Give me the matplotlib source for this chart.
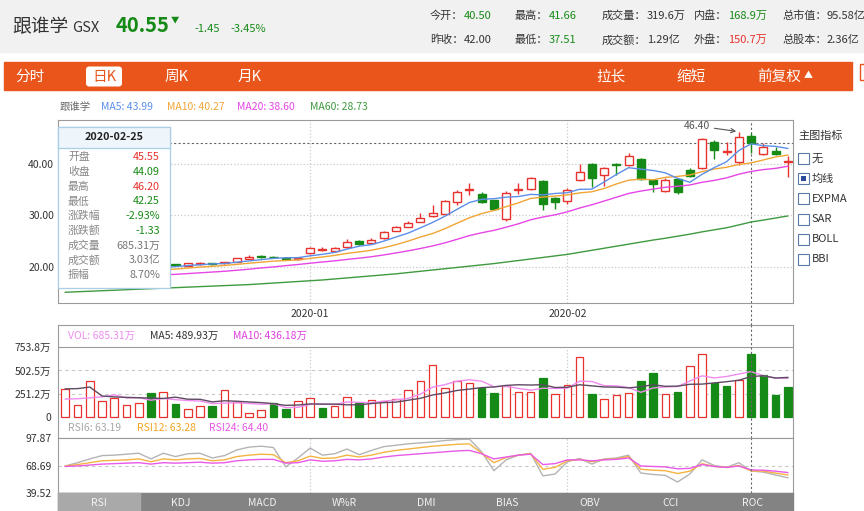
import numpy as np
import matplotlib
matplotlib.use("Agg")
import matplotlib.pyplot as plt
from matplotlib.patches import Rectangle, FancyBboxPatch

plt.rcParams['font.family'] = ['Noto Sans CJK SC', 'DejaVu Sans']
plt.rcParams['axes.unicode_minus'] = False

# ---- daily K data, 60 trading days (2019-12 .. 2020-02-28) ----
opens = [18.4, 18.6, 18.8, 19.0, 19.3, 19.5, 19.6, 20.0, 19.8, 20.5,
         20.15, 20.6, 20.7, 20.65, 21.0, 21.5, 22.05, 21.95, 21.75, 21.4,
         22.6, 23.3, 23.1, 23.8, 25.0, 24.6, 25.6, 27.05, 27.8, 28.8,
         29.8, 30.3, 32.7, 35.0, 34.2, 33.0, 29.3, 34.9, 35.2, 36.8,
         33.4, 32.8, 36.9, 40.0, 38.0, 40.0, 39.8, 41.0, 36.9, 34.7,
         37.1, 38.8, 39.3, 44.4, 42.45, 40.45, 45.55, 42.0, 42.55, 40.50]
highs = [18.8, 19.0, 19.2, 19.4, 19.6, 19.8, 20.0, 20.1, 20.6, 20.6,
         20.8, 20.85, 20.8, 21.0, 21.7, 22.2, 22.2, 22.1, 21.8, 21.8,
         23.9, 23.8, 23.9, 25.5, 25.2, 25.6, 27.0, 28.0, 28.9, 30.4,
         32.0, 33.0, 35.0, 36.3, 34.5, 33.1, 34.8, 36.4, 37.6, 37.0,
         33.6, 35.3, 40.0, 40.2, 39.4, 40.3, 42.15, 41.2, 37.1, 37.4,
         37.4, 39.2, 45.1, 44.7, 44.3, 46.40, 46.20, 44.1, 43.4, 41.66]
lows = [18.3, 18.5, 18.7, 18.9, 19.2, 19.4, 19.5, 19.7, 19.7, 20.1,
        20.05, 20.4, 20.4, 20.55, 20.9, 21.4, 21.7, 21.6, 21.3, 21.3,
        22.5, 23.0, 22.9, 23.7, 24.3, 24.5, 25.5, 26.9, 27.7, 28.7,
        29.7, 30.2, 32.0, 34.0, 32.4, 31.0, 28.9, 34.1, 35.0, 31.1,
        31.2, 32.3, 36.7, 35.6, 35.8, 37.9, 39.6, 37.0, 34.5, 34.6,
        34.1, 37.5, 39.0, 41.1, 41.8, 39.9, 42.25, 41.9, 41.9, 37.51]
closes = [18.6, 18.8, 19.0, 19.3, 19.5, 19.6, 19.9, 19.75, 20.45, 20.35,
          20.65, 20.7, 20.55, 20.85, 21.6, 21.9, 21.95, 21.8, 21.5, 21.65,
          23.7, 23.4, 23.65, 24.75, 24.5, 25.2, 26.8, 27.7, 28.6, 29.6,
          30.55, 32.8, 34.5, 35.2, 32.7, 31.2, 34.3, 35.1, 37.3, 32.2,
          32.6, 35.0, 38.5, 37.4, 39.2, 39.9, 41.65, 37.1, 36.1, 36.9,
          34.5, 37.8, 44.9, 42.7, 42.6, 45.42, 44.09, 43.4, 42.0, 40.55]

ma5 = [18.3, 18.4, 18.6, 18.8, 19.04, 19.24, 19.46, 19.61, 19.84, 20.01,
       20.22, 20.38, 20.54, 20.62, 20.87, 21.12, 21.37, 21.62, 21.75, 21.76,
       22.12, 22.41, 22.78, 23.43, 24.0, 24.3, 24.98, 25.79, 26.56, 27.58,
       28.65, 29.85, 31.21, 32.53, 33.15, 33.28, 33.58, 33.7, 34.12, 34.02,
       34.3, 34.44, 35.12, 35.14, 36.54, 38.0, 39.33, 39.05, 38.79, 38.33,
       37.25, 36.48, 38.04, 39.36, 40.5, 42.68, 43.99, 43.64, 43.5, 43.09]
ma10 = [18.0, 18.1, 18.3, 18.5, 18.7, 18.9, 19.1, 19.25, 19.4, 19.53,
        19.73, 19.92, 20.08, 20.23, 20.44, 20.67, 20.88, 21.08, 21.19, 21.32,
        21.62, 21.89, 22.2, 22.59, 22.88, 23.21, 23.7, 24.29, 25.0, 25.79,
        26.48, 27.42, 28.5, 29.55, 30.37, 30.97, 31.72, 32.46, 33.33, 33.59,
        33.79, 34.01, 34.41, 34.63, 35.28, 36.15, 36.89, 37.09, 36.97, 37.44,
        37.63, 37.91, 38.55, 39.08, 39.42, 39.97, 40.27, 40.84, 41.43, 41.8]
ma20 = [17.6, 17.7, 17.8, 17.9, 18.0, 18.1, 18.2, 18.3, 18.4, 18.5,
        18.65, 18.8, 18.95, 19.1, 19.3, 19.5, 19.75, 19.95, 20.2, 20.42,
        20.68, 20.91, 21.14, 21.41, 21.66, 21.94, 22.29, 22.68, 23.09, 23.55,
        24.05, 24.65, 25.35, 26.07, 26.62, 27.09, 27.71, 28.37, 29.16, 29.69,
        30.13, 30.71, 31.46, 32.09, 32.82, 33.56, 34.3, 34.77, 35.15, 35.51,
        35.71, 35.96, 36.48, 36.85, 37.35, 38.06, 38.60, 38.96, 39.2, 39.62]
ma60 = [15.0, 15.1, 15.2, 15.3, 15.4, 15.5, 15.6, 15.7, 15.8, 15.9,
        16.0, 16.1, 16.2, 16.3, 16.4, 16.5, 16.65, 16.8, 16.95, 17.1,
        17.25, 17.4, 17.6, 17.8, 18.0, 18.2, 18.4, 18.6, 18.85, 19.1,
        19.35, 19.6, 19.85, 20.1, 20.35, 20.6, 20.9, 21.2, 21.5, 21.8,
        22.1, 22.4, 22.8, 23.2, 23.6, 24.0, 24.4, 24.8, 25.2, 25.55,
        25.95, 26.35, 26.8, 27.2, 27.6, 28.15, 28.73, 29.1, 29.5, 29.9]

# volume in 万股
vol = [302, 126, 393, 170, 200, 126, 145, 255, 266, 134,
       82, 115, 115, 291, 156, 42, 71, 145, 79, 173,
       201, 91, 121, 212, 154, 183, 172, 194, 293, 384,
       560, 311, 384, 366, 311, 256, 337, 267, 267, 417,
       249, 348, 651, 245, 194, 238, 256, 391, 479, 249,
       267, 548, 677, 366, 329, 395, 685.31, 450, 238, 319.6]
vma5 = [192, 195, 205, 215, 238, 203, 207, 179, 198, 185,
        176, 170, 142, 147, 152, 144, 135, 141, 99, 102,
        134, 138, 133, 160, 156, 152, 168, 183, 199, 245,
        321, 348, 386, 401, 386, 326, 331, 307, 288, 309,
        307, 310, 386, 382, 337, 335, 317, 265, 312, 323,
        328, 387, 444, 421, 437, 463, 489.93, 445, 419, 418]
vma10 = [302, 305, 322, 225, 215, 210, 206, 202, 198, 212,
         190, 189, 161, 173, 168, 160, 153, 142, 123, 127,
         139, 136, 137, 129, 129, 143, 153, 158, 179, 200,
         236, 258, 285, 300, 316, 323, 340, 347, 344, 348,
         317, 320, 347, 335, 323, 321, 313, 326, 347, 330,
         332, 352, 354, 367, 380, 396, 436.18, 445, 420, 427]

rsi6 = [68.5, 72, 76, 79.5, 80, 81, 82, 76, 82, 78.5,
        81.5, 82, 77, 79.5, 85.5, 88.5, 89.5, 88, 67.5, 77,
        87.5, 80, 81.5, 86.5, 80.5, 85, 89, 90.5, 92, 93,
        94, 95.5, 96.5, 97, 83.5, 63.5, 75, 80, 82, 58,
        60, 73, 76.5, 70.5, 76, 77, 80, 61, 59.5, 58.5,
        51.5, 60, 75, 69, 67, 72, 63.19, 62, 59, 56]
rsi12 = [68.5, 70, 72, 74, 74.5, 75, 76, 73, 76, 75,
         76, 76.5, 74, 75, 78.5, 80, 81, 80.5, 72, 74,
         79, 76.5, 77, 80, 78, 80, 83, 85, 86.5, 88,
         89.5, 90.5, 91.5, 92, 82, 72, 77.5, 80, 81.5, 65,
         67, 74, 75.5, 73, 75.5, 76, 78.5, 65, 64, 63.5,
         60.5, 63, 71, 68, 67, 69, 63.28, 63, 61, 59]
rsi24 = [68, 68.5, 69.5, 70.5, 71, 71.5, 72, 70.5, 72, 71.5,
         72, 72.5, 71.5, 72, 74, 75, 75.5, 75.5, 71.5, 72,
         75, 73.5, 74, 75.5, 75, 76, 78, 79.5, 80.5, 81.5,
         82.5, 83.5, 84.5, 85, 81.5, 76, 78, 80, 81, 70,
         71, 75, 75, 74, 75, 75.5, 77, 68.5, 68, 67.5,
         65.5, 66, 70, 68, 67, 68.5, 64.40, 64, 63, 61.5]

month_labels = ['2020-01', '2020-02']
month_idx = [20, 41]
price_ticks = [20, 30, 40]
vol_ticks = [0, 251.2, 502.5, 753.8]
vol_tick_labels = ['0', '251.2万', '502.5万', '753.8万']
rsi_ticks = [39.52, 68.69, 97.87]
sel = 56                      # crosshair bar
sel_date = '2020-02-25'
sel_amount = '3.03亿'
tabs = ['RSI', 'KDJ', 'MACD', 'W%R', 'DMI', 'BIAS', 'OBV', 'CCI', 'ROC']
indicators = ['无', '均线', 'EXPMA', 'SAR', 'BOLL', 'BBI']

opens = np.array(opens); highs = np.array(highs)
lows = np.array(lows); closes = np.array(closes)
vol = np.array(vol)
x = np.arange(len(closes))

RED = '#e8322e'
GREEN = '#168a16'
C_MA5 = '#5b8fe8'
C_MA10 = '#f0a535'
C_MA20 = '#e646e6'
C_MA60 = '#3f9a3f'
ORANGE = '#e9551a'
GRID = '#c9c9c9'
SPINE = '#9a9a9a'

W, H = 864, 511
fig = plt.figure(figsize=(W / 100, H / 100), dpi=100)


def pax(l, t, r, b, z=0):
    return fig.add_axes([l / W, 1 - b / H, (r - l) / W, (b - t) / H], zorder=z)


# background layer (pixel coords)
bg = pax(0, 0, W, H, z=-5)
bg.set_xlim(0, W); bg.set_ylim(H, 0); bg.axis('off')
bg.add_patch(Rectangle((0, 0), W, 52, color='#f1f1f1'))
bg.text(12, 27, '跟谁学', fontsize=13.5, color='#333', va='center')
bg.text(72, 28, 'GSX', fontsize=10.5, color='#333', va='center')
last = closes[-1]; prev = closes[-2]
bg.text(116, 26, f'{last:.2f}', fontsize=14.5, color=GREEN, va='center', weight='bold')
bg.text(171, 20, '▼', fontsize=6, color=GREEN, va='center')
bg.text(194, 29, f'{last - prev:.2f}', fontsize=8, color=GREEN, va='center')
bg.text(230, 29, f'{(last - prev) / prev * 100:.2f}%', fontsize=8, color=GREEN, va='center')

stats = [
    (430, 16, '今开：', f'{opens[-1]:.2f}', GREEN), (515, 16, '最高：', f'{highs[-1]:.2f}', GREEN),
    (602, 16, '成交量：', '319.6万', '#333'), (694, 16, '内盘：', '168.9万', GREEN),
    (782, 16, '总市值：', '95.58亿', '#333'),
    (430, 40, '昨收：', f'{prev:.2f}', '#333'), (515, 40, '最低：', f'{lows[-1]:.2f}', GREEN),
    (602, 40, '成交额：', '1.29亿', '#333'), (694, 40, '外盘：', '150.7万', RED),
    (782, 40, '总股本：', '2.36亿', '#333'),
]
for sx, sy, lab, val, col in stats:
    bg.text(sx, sy, lab, fontsize=8, color='#333', va='center')
    bg.text(sx + 11.2 * len(lab), sy, val, fontsize=8, color=col, va='center')

# orange menu bar
bg.add_patch(Rectangle((4, 62), 848, 28, color=ORANGE))
bg.add_patch(Rectangle((859.5, 64), 6, 16, fc='none', ec=ORANGE, lw=1))
bg.add_patch(FancyBboxPatch((86, 66.5), 36, 20, boxstyle='round,pad=0,rounding_size=3',
                            fc='white', ec='none'))
for mx, lab in [(15, '分时'), (165, '周K'), (238, '月K'), (596, '拉长'), (676, '缩短'), (757, '前复权')]:
    bg.text(mx, 76.5, lab, fontsize=10.5, color='white', va='center')
bg.text(804, 76, '▲', fontsize=6.5, color='white', va='center')
bg.text(104, 76.5, '日K', fontsize=10.5, color=ORANGE, va='center', ha='center')

# MA legend line
ma_legend = [('跟谁学', '#666'), (f'MA5: {ma5[sel]:.2f}', C_MA5), (f'MA10: {ma10[sel]:.2f}', C_MA10),
             (f'MA20: {ma20[sel]:.2f}', C_MA20), (f'MA60: {ma60[sel]:.2f}', C_MA60)]
for px, (lab, col) in zip([60, 101, 167, 237, 310], ma_legend):
    bg.text(px, 107, lab, fontsize=7.5, color=col, va='center')

# right indicator panel
bg.text(798, 136, '主图指标', fontsize=8, color='#333', va='center')
for k, lab in enumerate(indicators):
    cy = 158.5 + k * 20.2
    bg.add_patch(Rectangle((798, cy - 5.5), 11, 11, fc='white', ec='#5a78a8', lw=0.8))
    if lab == '均线':
        bg.add_patch(Rectangle((800.8, cy - 2.7), 5.4, 5.4, fc='#2b4c9b', ec='none'))
    bg.text(812, cy, lab, fontsize=8, color='#333', va='center')


def style(a):
    for s in a.spines.values():
        s.set_color(SPINE); s.set_linewidth(0.8)
    a.tick_params(length=0, labelsize=7.5, colors='#333')
    a.set_xlim(-0.571, 59.45)


# ---- main K chart ----
ax = pax(58.3, 120, 793.3, 302.5)
style(ax)
ax.set_ylim(13.0, 48.65)
for p in price_ticks:
    ax.axhline(p, color=GRID, ls=':', lw=0.9, zorder=0)
for m in month_idx:
    ax.axvline(m, color=GRID, ls=':', lw=0.9, zorder=0)
up = closes >= opens
for i in x:
    col = RED if up[i] else GREEN
    ax.vlines(i, lows[i], highs[i], color=col, lw=1, zorder=2)
    lo = min(opens[i], closes[i]); hi = max(opens[i], closes[i])
    ax.add_patch(Rectangle((i - 0.33, lo), 0.66, max(hi - lo, 0.08),
                           fc='white' if up[i] else GREEN, ec=col, lw=1, zorder=3))
ax.plot(x, ma60, color=C_MA60, lw=1, zorder=4)
ax.plot(x, ma20, color=C_MA20, lw=1, zorder=4)
ax.plot(x, ma10, color=C_MA10, lw=1, zorder=4)
ax.plot(x, ma5, color=C_MA5, lw=1, zorder=4)
ax.axhline(closes[sel], color='#666', ls=(0, (2, 2)), lw=0.8, zorder=1)
ax.axvline(sel, ymin=-22.5 / 182.5, ymax=1, color='#666', ls=(0, (2, 2)), lw=0.8,
           zorder=1, clip_on=False)
imax = int(np.argmax(highs))
ax.annotate(f'{highs[imax]:.2f}', xy=(imax - 0.1, highs[imax]), xytext=(51.6, 47.5),
            ha='center', va='center', fontsize=7.5, color='#555',
            arrowprops=dict(arrowstyle='->', color='#555', lw=0.8, shrinkA=1, shrinkB=1),
            annotation_clip=False, zorder=6)
ax.set_yticks(price_ticks)
ax.set_yticklabels([f'{p:.2f}' for p in price_ticks])
ax.set_xticks(month_idx)
ax.set_xticklabels(month_labels)
ax.tick_params(axis='y', pad=3)
ax.tick_params(axis='x', pad=4.5)

# ---- volume panel ----
av = pax(58.3, 325, 793.3, 438.3)
style(av)
av.set_ylim(-234.6, 996)
vcol = [RED] + [RED if closes[i] >= closes[i - 1] else GREEN for i in range(1, len(closes))]
vfill = ['white' if c == RED else GREEN for c in vcol]
for g in vol_ticks[1:3]:
    av.axhline(g, color=GRID, ls=(0, (3, 3)), lw=0.8, zorder=0)
av.vlines(month_idx, 0, vol_ticks[-1], color=GRID, ls=':', lw=0.9, zorder=0)
av.bar(x, vol, width=0.62, color=vfill, edgecolor=vcol, lw=0.9, zorder=2)
av.plot(x, vma5, color='#f08cf0', lw=1, zorder=3)
av.plot(x, vma10, color='#5e4a62', lw=1, zorder=3)
av.axhline(vol_ticks[-1], color=SPINE, lw=0.8, zorder=1)
av.axvline(sel, color='#666', ls=(0, (2, 2)), lw=0.8, zorder=4)
av.set_yticks(vol_ticks)
av.set_yticklabels(vol_tick_labels)
av.set_xticks([])
av.tick_params(axis='y', pad=5)

# ---- RSI panel ----
ar = pax(58.3, 438.3, 793.3, 493.3)
style(ar)
ar.set_ylim(rsi_ticks[0], rsi_ticks[-1])
ar.axhline(rsi_ticks[1], color=GRID, ls=(0, (3, 3)), lw=0.8, zorder=0)
ar.vlines(month_idx, rsi_ticks[0], rsi_ticks[-1], color=GRID, ls=':', lw=0.9, zorder=0)
ar.plot(x, rsi6, color='#b4b4b4', lw=1)
ar.plot(x, rsi12, color='#f5b342', lw=1)
ar.plot(x, rsi24, color='#e85ae8', lw=1)
ar.axvline(sel, color='#666', ls=(0, (2, 2)), lw=0.8)
ar.set_yticks(rsi_ticks)
ar.set_yticklabels([f'{v:.2f}' for v in rsi_ticks])
ar.set_xticks([])
ar.tick_params(axis='y', pad=5)

# ---- top overlay: legends, tooltip, tabs ----
top = pax(0, 0, W, H, z=10)
top.set_xlim(0, W); top.set_ylim(H, 0); top.axis('off')
top.patch.set_alpha(0)

top.text(68, 336, f'VOL: {vol[sel]:.2f}万', fontsize=7.5, color='#ee8cee', va='center')
top.text(150, 336, f'MA5: {vma5[sel]:.2f}万', fontsize=7.5, color='#333', va='center')
top.text(233, 336, f'MA10: {vma10[sel]:.2f}万', fontsize=7.5, color='#e040e0', va='center')
top.text(68, 428, f'RSI6: {rsi6[sel]:.2f}', fontsize=7.5, color='#a8a8a8', va='center')
top.text(137, 428, f'RSI12: {rsi12[sel]:.2f}', fontsize=7.5, color='#f5a623', va='center')
top.text(209, 428, f'RSI24: {rsi24[sel]:.2f}', fontsize=7.5, color='#e858e8', va='center')

# tooltip box
top.add_patch(Rectangle((58.3, 126.7), 111.7, 161.6, fc='white', ec='#a9cfe6', lw=0.9))
top.add_patch(Rectangle((58.3, 126.7), 111.7, 21.6, fc='#eef5fb', ec='#a9cfe6', lw=0.9))
top.text(114, 137.5, sel_date, ha='center', va='center', fontsize=7.8, weight='bold', color='#222')
pc = closes[sel - 1]
chg = closes[sel] - pc


def pcol(v):
    return RED if v > pc else GREEN


rows = [
    ('开盘', f'{opens[sel]:.2f}', pcol(opens[sel])),
    ('收盘', f'{closes[sel]:.2f}', pcol(closes[sel])),
    ('最高', f'{highs[sel]:.2f}', pcol(highs[sel])),
    ('最低', f'{lows[sel]:.2f}', pcol(lows[sel])),
    ('涨跌幅', f'{chg / pc * 100:.2f}%', RED if chg > 0 else GREEN),
    ('涨跌额', f'{chg:.2f}', RED if chg > 0 else GREEN),
    ('成交量', f'{vol[sel]:.2f}万', '#777'),
    ('成交额', sel_amount, '#777'),
    ('振幅', f'{(highs[sel] - lows[sel]) / pc * 100:.2f}%', '#777'),
]
for k, (lab, val, col) in enumerate(rows):
    ry = 157.3 + k * 14.7
    top.text(68, ry, lab, fontsize=7.8, color='#888', va='center')
    top.text(160, ry, val, fontsize=7.8, color=col, va='center', ha='right')

# indicator tabs
top.add_patch(Rectangle((58.3, 493.3), 735, 17.7, color='#838383'))
top.add_patch(Rectangle((58.3, 493.3), 82, 17.7, color='#a9a9a9'))
for k, lab in enumerate(tabs):
    top.text(99 + 81.7 * k, 502.5, lab, fontsize=7.5, color='#f2f2f2', ha='center', va='center')

fig.savefig('out.png', dpi=100)
